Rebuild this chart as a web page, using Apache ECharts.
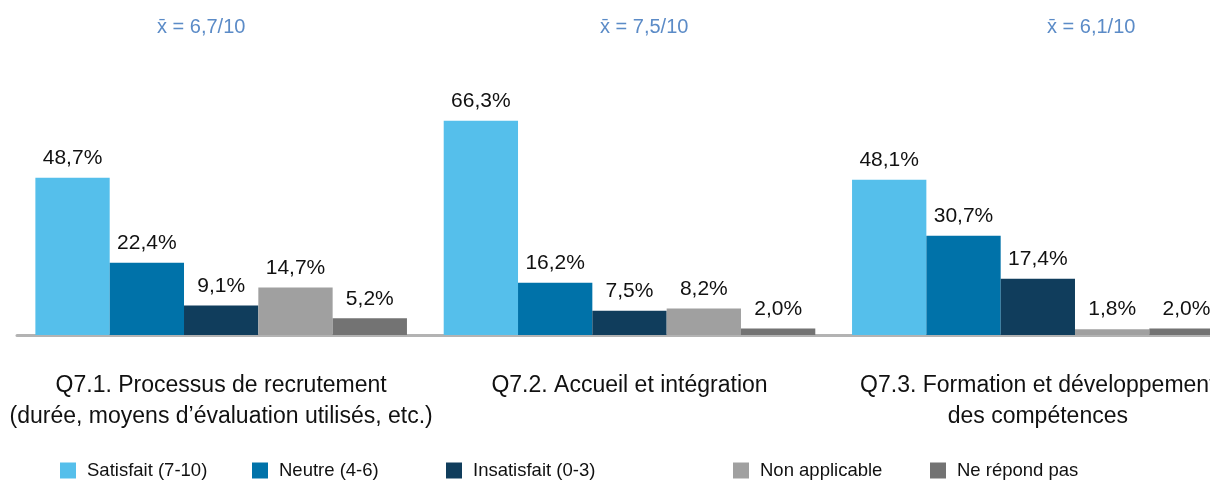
<!DOCTYPE html>
<html lang="fr">
<head>
  <meta charset="UTF-8">
  <title>Satisfaction Q7</title>
  <style>
    html, body { margin: 0; padding: 0; background: #fff; }
    .main { width: 1210px; height: 481px; }
  </style>
</head>
<body>
  <div class="main"></div>
  <script src="https://cdn.jsdelivr.net/npm/echarts@6/dist/echarts.min.js"></script>
  <script>
    const categories = [
      'Q7.1. Processus de recrutement\n(durée, moyens d\u2019évaluation utilisés, etc.)',
      'Q7.2. Accueil et intégration',
      'Q7.3. Formation et développement\ndes compétences'
    ]
    const seriesNames = ['Satisfait (7-10)', 'Neutre (4-6)', 'Insatisfait (0-3)', 'Non applicable', 'Ne répond pas']
    const satisfait = [48.7, 66.3, 48.1]
    const neutre = [22.4, 16.2, 30.7]
    const insatisfait = [9.1, 7.5, 17.4]
    const nonApplicable = [14.7, 8.2, 1.8]
    const neRepondPas = [5.2, 2.0, 2.0]
    const means = ['6,7', '7,5', '6,1']

    const colors = ['#55bfeb', '#0072a9', '#103d5c', '#a0a0a0', '#737373']
    const font = '"Liberation Sans", Arial, sans-serif'
    const values = [satisfait, neutre, insatisfait, nonApplicable, neRepondPas]

    var myChart = echarts.init(document.querySelector('.main'))

    // positions des légendes (colonnes fixes comme dans l'original)
    const legendLeft = [55, 247, 441, 728, 925]
    const meanX = [157, 600, 1047]

    var option = {
      animation: false,
      // la dernière catégorie déborde à droite du cadre, comme dans l'original
      grid: { left: 17, width: 1225, top: 12, bottom: 146, outerBoundsMode: 'none' },
      legend: seriesNames.map((name, i) => ({
        data: [name],
        left: legendLeft[i],
        top: 456,
        itemWidth: 16,
        itemHeight: 16,
        icon: 'rect',
        textStyle: { fontFamily: font, fontSize: 18.5, color: '#111', padding: [0, 0, 0, 6] }
      })),
      graphic: means.map((m, i) => ({
        type: 'text',
        left: meanX[i],
        top: 17,
        style: { text: 'x\u0304 = ' + m + '/10', font: '20px ' + font, fill: '#5b8bc7' }
      })),
      xAxis: {
        type: 'category',
        data: categories,
        axisLine: { lineStyle: { color: '#b3b3b3', width: 3 } },
        axisTick: { show: false },
        axisLabel: { fontFamily: font, fontSize: 23, color: '#111', lineHeight: 31, margin: 35, interval: 0 }
      },
      yAxis: {
        type: 'value',
        min: 0,
        max: 100,
        show: false,
        splitLine: { show: false }
      },
      series: seriesNames.map((name, i) => ({
        name: name,
        type: 'bar',
        data: values[i],
        barGap: '0%',
        barCategoryGap: '9%',
        itemStyle: { color: colors[i] },
        label: {
          show: true,
          position: 'top',
          distance: 9,
          fontFamily: font,
          fontSize: 21,
          color: '#111',
          formatter: p => p.value.toFixed(1).replace('.', ',') + '%'
        }
      }))
    }

    myChart.setOption(option)
  </script>
</body>
</html>
